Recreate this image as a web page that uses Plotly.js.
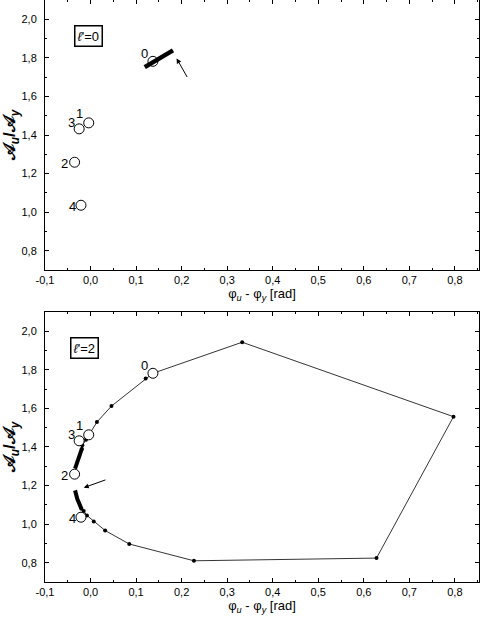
<!DOCTYPE html>
<html lang="en">
<head>
  <meta charset="UTF-8">
  <title>A_u / A_y vs phase difference</title>
  <script src="https://cdn.plot.ly/plotly-3.0.1.min.js"></script>
  <style>
    body { margin: 0; background: #fff; }
    #graph { width: 480px; height: 618px; }
  </style>
</head>
<body>
  <div id="graph"></div>
  <script>
    // open circles, labelled 0..4 (same in both panels)
    const circleLabels = ['0', '1', '2', '3', '4'];
    const circleX = [0.137, -0.004, -0.035, -0.025, -0.021];
    const circleY = [1.782, 1.463, 1.259, 1.432, 1.036];
    // pixel offsets of each label from its circle
    const labelShiftX = [-8, -9, -10, -8, -8];
    const labelShiftY = [8, 9, -1, 6, -1];

    // l'=0 : short thick segment near circle 0
    const l0X = [0.119, 0.150, 0.181];
    const l0Y = [1.752, 1.796, 1.839];

    // l'=2 : closed-ish curve with dots
    const l2X = [0.137, 0.333, 0.797, 0.628, 0.227, 0.085, 0.032, 0.007, -0.008, -0.015, -0.020];
    const l2Y = [1.782, 1.943, 1.557, 0.824, 0.810, 0.897, 0.967, 1.014, 1.045, 1.068, 1.080];
    const l2bX = [-0.019, -0.018, -0.010, 0.014, 0.046, 0.121, 0.137];
    const l2bY = [1.391, 1.409, 1.438, 1.529, 1.612, 1.755, 1.782];

    // thick dense parts of the l'=2 curve
    const thickLowX = [-0.034, -0.029, -0.020];
    const thickLowY = [1.175, 1.130, 1.080];
    const thickUpX = [-0.034, -0.027, -0.019];
    const thickUpY = [1.288, 1.340, 1.391];

    const xTicks = [-0.1, 0, 0.1, 0.2, 0.3, 0.4, 0.5, 0.6, 0.7, 0.8];
    const xTickText = ['-0,1', '0,0', '0,1', '0,2', '0,3', '0,4', '0,5', '0,6', '0,7', '0,8'];
    const yTicks = [0.8, 1.0, 1.2, 1.4, 1.6, 1.8, 2.0];
    const yTickText = ['0,8', '1,0', '1,2', '1,4', '1,6', '1,8', '2,0'];

    const font = 'Liberation Sans, Arial, sans-serif';

    function circles(xa, ya) {
      return {
        x: circleX, y: circleY, xaxis: xa, yaxis: ya,
        mode: 'markers', type: 'scatter',
        marker: { symbol: 'circle', size: 10, color: '#fff', line: { color: '#000', width: 1 } },
        hoverinfo: 'skip', cliponaxis: false
      };
    }

    const traces = [
      circles('x', 'y'),
      { x: l0X, y: l0Y, xaxis: 'x', yaxis: 'y', mode: 'lines', type: 'scatter',
        line: { color: '#000', width: 4.5 } },

      { x: l2X, y: l2Y, xaxis: 'x2', yaxis: 'y2', mode: 'lines+markers', type: 'scatter',
        line: { color: '#000', width: 0.8 }, marker: { color: '#000', size: 4 } },
      { x: l2bX, y: l2bY, xaxis: 'x2', yaxis: 'y2', mode: 'lines+markers', type: 'scatter',
        line: { color: '#000', width: 0.8 }, marker: { color: '#000', size: 4 } },
      { x: thickLowX, y: thickLowY, xaxis: 'x2', yaxis: 'y2', mode: 'lines', type: 'scatter',
        line: { color: '#000', width: 4 } },
      { x: thickUpX, y: thickUpY, xaxis: 'x2', yaxis: 'y2', mode: 'lines', type: 'scatter',
        line: { color: '#000', width: 4 } },
      circles('x2', 'y2')
    ];

    function xAxis(anchor) {
      return {
        anchor: anchor, range: [-0.1, 0.853], tickmode: 'array', tickvals: xTicks, ticktext: xTickText,
        ticks: 'inside', ticklen: 4, tickcolor: '#000', mirror: 'allticks', showline: true,
        linecolor: '#000', linewidth: 1, showgrid: false, zeroline: false,
        minor: { tick0: 0, dtick: 0.05, ticks: 'inside', ticklen: 2, tickcolor: '#000' },
        tickfont: { family: font, size: 11, color: '#000' },
        title: { text: 'φ<sub><i>u</i></sub> - φ<sub><i>y</i></sub> [rad]', standoff: 1,
                 font: { family: font, size: 13, color: '#000' } },
        automargin: false
      };
    }
    function yAxis(anchor, domain) {
      return {
        anchor: anchor, domain: domain, range: [0.7, 2.1], tickmode: 'array', tickvals: yTicks, ticktext: yTickText,
        ticks: 'inside', ticklen: 4, tickcolor: '#000', mirror: 'allticks', showline: true,
        linecolor: '#000', linewidth: 1, showgrid: false, zeroline: false,
        minor: { tick0: 0, dtick: 0.1, ticks: 'inside', ticklen: 2, tickcolor: '#000' },
        tickfont: { family: font, size: 11, color: '#000' }, ticklabelstandoff: 5,
        title: { text: '<b>𝒜<sub><i>u</i></sub>/𝒜<sub><i>y</i></sub></b>', standoff: 6,
                 font: { family: font, size: 17, color: '#000' } },
        automargin: false
      };
    }

    const annotations = [
      { xref: 'x domain', yref: 'y domain', x: 0.066, y: 0.907, xanchor: 'left', yanchor: 'top',
        text: '<i>ℓ</i>\'=0', showarrow: false, bordercolor: '#000', borderwidth: 1.5, borderpad: 2,
        font: { family: font, size: 13, color: '#000' } },
      { xref: 'x2 domain', yref: 'y2 domain', x: 0.057, y: 0.907, xanchor: 'left', yanchor: 'top',
        text: '<i>ℓ</i>\'=2', showarrow: false, bordercolor: '#000', borderwidth: 1.5, borderpad: 2,
        font: { family: font, size: 13, color: '#000' } },
      { xref: 'x', yref: 'y', x: 0.189, y: 1.797, axref: 'x', ayref: 'y', ax: 0.214, ay: 1.693,
        text: '', showarrow: true, arrowhead: 2, arrowsize: 1, arrowwidth: 1, arrowcolor: '#000' },
      { xref: 'x2', yref: 'y2', x: -0.015, y: 1.189, axref: 'x2', ayref: 'y2', ax: 0.036, ay: 1.232,
        text: '', showarrow: true, arrowhead: 2, arrowsize: 1, arrowwidth: 1, arrowcolor: '#000' }
    ];
    ['', '2'].forEach(function (s) {
      circleLabels.forEach(function (lab, i) {
        annotations.push({
          xref: 'x' + s, yref: 'y' + s, x: circleX[i], y: circleY[i], text: lab, showarrow: false,
          xshift: labelShiftX[i], yshift: labelShiftY[i], xanchor: 'center', yanchor: 'middle',
          font: { family: font, size: 13, color: '#000' }
        });
      });
    });

    const layout = {
      width: 480, height: 618,
      margin: { l: 45, r: 1, t: 0, b: 36 },
      paper_bgcolor: '#fff', plot_bgcolor: '#fff',
      showlegend: false,
      xaxis: xAxis('y'),
      yaxis: yAxis('x', [0.536, 1]),
      xaxis2: xAxis('y2'),
      yaxis2: yAxis('x2', [0, 0.464]),
      annotations: annotations
    };

    Plotly.newPlot('graph', traces, layout, { displayModeBar: false, staticPlot: true });
  </script>
</body>
</html>
